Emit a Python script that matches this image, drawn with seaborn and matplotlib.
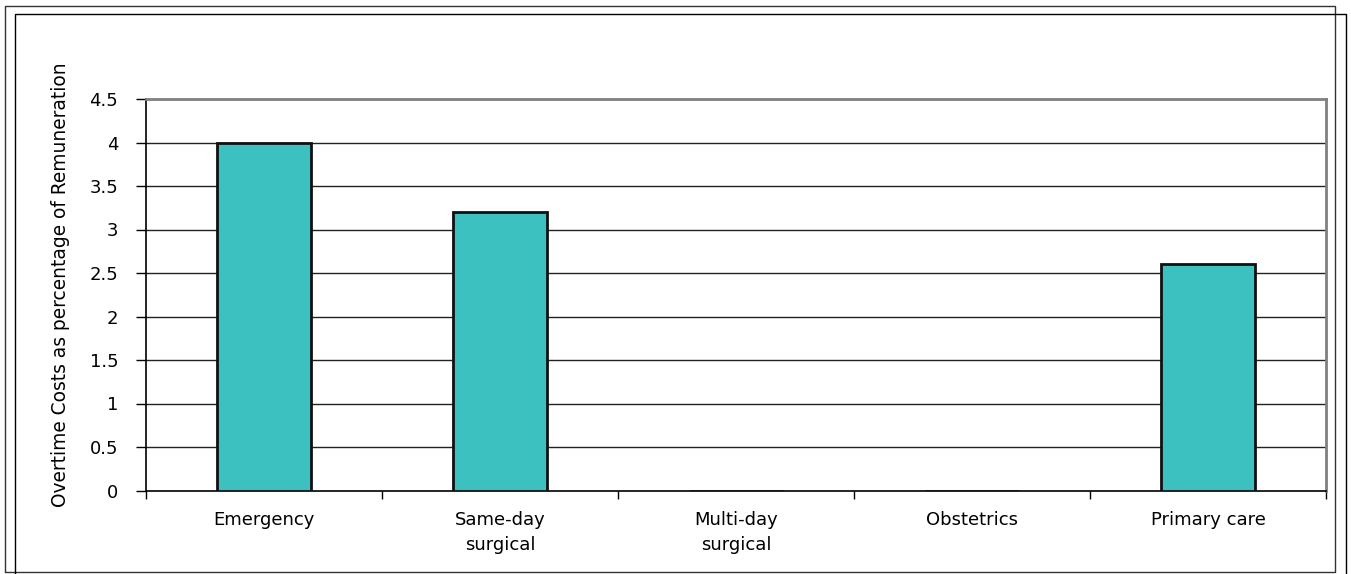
import matplotlib
matplotlib.use("Agg")
import matplotlib.pyplot as plt
import seaborn as sns
import pandas as pd
from matplotlib.lines import Line2D
from matplotlib.ticker import FixedLocator, FuncFormatter

categories = ["Emergency", "Same-day\nsurgical", "Multi-day\nsurgical", "Obstetrics", "Primary care"]
values = [4.0, 3.2, 0.0, 0.0, 2.6]
y_ticks = [0, 0.5, 1, 1.5, 2, 2.5, 3, 3.5, 4, 4.5]
y_label = "Overtime Costs as percentage of Remuneration"

sns.set_theme(style="white")
plt.rcParams['font.family'] = ['DejaVu Sans']

W, H = 1351, 574
fig = plt.figure(figsize=(W / 100, H / 100), dpi=100)
ax = fig.add_axes([146 / W, 1 - 490.5 / H, (1326 - 146) / W, (490.5 - 99) / H])

df = pd.DataFrame({"cat": categories, "val": values})
sns.barplot(data=df, x="cat", y="val", ax=ax, color="#3CC0C0", saturation=1,
            edgecolor="#111111", linewidth=2, width=0.4, zorder=3)

ax.set_ylim(0, 4.5)
ax.set_xlim(-0.5, 4.5)
ax.set_yticks(y_ticks)
ax.yaxis.set_major_formatter(FuncFormatter(lambda v, p: f"{v:g}"))
for t in y_ticks[1:-1]:
    ax.axhline(t, color="#222222", lw=1, zorder=1)

ax.set_xlabel("")
ax.set_ylabel("")
ax.tick_params(axis="y", direction="out", length=7, width=1, color="black",
               labelsize=13, labelcolor="black", pad=13, left=True)
ax.set_xticks(range(len(categories)))
ax.set_xticklabels(categories)
ax.tick_params(axis="x", which="major", length=0, labelsize=13, labelcolor="black", pad=15)
ax.xaxis.set_minor_locator(FixedLocator([-0.5, 0.5, 1.5, 2.5, 3.5, 4.5]))
ax.tick_params(axis="x", which="minor", direction="out", length=6, width=1, color="black", bottom=True)
for lab in ax.get_xticklabels():
    lab.set_linespacing(1.5)

for s in ["left", "bottom"]:
    ax.spines[s].set_color("black")
    ax.spines[s].set_linewidth(1.2)
for s in ["top", "right"]:
    ax.spines[s].set_color("#808080")
    ax.spines[s].set_linewidth(2)
for s in ax.spines.values():
    s.set_visible(True)

fig.text(61 / W, 1 - 284.5 / H, y_label, rotation=90, ha="center", va="center",
         fontsize=13.4, color="black")

def px(x, y):
    return x / W, 1 - y / H

def frame(x0, y0, x1, y1, color, bottom=True):
    pts = [(x0, y1), (x0, y0), (x1, y0), (x1, y1)]
    if bottom:
        pts.append((x0, y1))
    xs = [px(*p)[0] for p in pts]
    ys = [px(*p)[1] for p in pts]
    fig.add_artist(Line2D(xs, ys, transform=fig.transFigure, color=color, lw=1))

frame(4.5, 5.5, 1334.5, 571.5, "#333333")
frame(14.5, 13.5, 1345.5, 580, "black", bottom=False)

fig.savefig("out.png", dpi=100)
